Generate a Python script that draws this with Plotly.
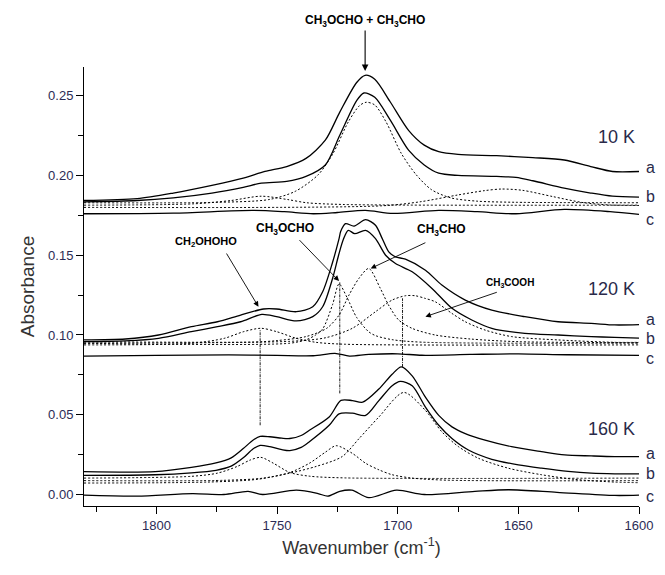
import plotly.graph_objects as go

# ---------------- data ----------------
# 10 K
k10_a_x = [1830, 1808, 1793, 1777, 1764, 1755, 1746, 1738, 1730, 1724, 1717, 1713.5, 1709.5, 1703, 1695.5, 1689, 1683, 1675, 1659, 1644, 1631, 1620, 1611, 1600]
k10_a_y = [0.1843, 0.1855, 0.1890, 0.1938, 0.1983, 0.2025, 0.2056, 0.2107, 0.2221, 0.2397, 0.2583, 0.2628, 0.2603, 0.2459, 0.2283, 0.2190, 0.2149, 0.2132, 0.2124, 0.2112, 0.2097, 0.2056, 0.2025, 0.2025]
k10_b_x = [1830, 1808, 1793, 1777, 1764, 1756.5, 1746, 1738, 1730, 1724, 1717, 1714, 1709.5, 1703, 1695.5, 1689, 1683, 1675, 1659, 1651, 1644, 1631, 1620, 1611, 1600]
k10_b_y = [0.1835, 0.1843, 0.1860, 0.1890, 0.1926, 0.1952, 0.1963, 0.1994, 0.2066, 0.2252, 0.2469, 0.2517, 0.2490, 0.2345, 0.2159, 0.2066, 0.2014, 0.2000, 0.1994, 0.1988, 0.1967, 0.1921, 0.1890, 0.1870, 0.1864]
k10_c_x = [1830, 1793, 1760, 1747, 1735, 1725, 1713.4, 1702, 1683, 1667, 1651, 1631, 1612, 1600]
k10_c_y = [0.1760, 0.1764, 0.1781, 0.1773, 0.1760, 0.1768, 0.1781, 0.1762, 0.1781, 0.1773, 0.1760, 0.1787, 0.1773, 0.1756]
k10_p1_x = [1830, 1777, 1753.4, 1742.4, 1733, 1726.8, 1720.5, 1715.8, 1713, 1709.5, 1704.8, 1698.5, 1692.3, 1686, 1678.1, 1667.1, 1651.4, 1600]
k10_p1_y = [0.1829, 0.1831, 0.1849, 0.1901, 0.2004, 0.2138, 0.2335, 0.2438, 0.2459, 0.2442, 0.2335, 0.2138, 0.2004, 0.1911, 0.1860, 0.1839, 0.1832, 0.1829]
k10_p2_x = [1830, 1784.8, 1769.1, 1756.6, 1745.6, 1737.7, 1722, 1600]
k10_p2_y = [0.1814, 0.1822, 0.1843, 0.1870, 0.1849, 0.1829, 0.1818, 0.1814]
k10_p3_x = [1830, 1706.4, 1690.7, 1675, 1664, 1656.9, 1648.3, 1635.8, 1623.2, 1612.2, 1600]
k10_p3_y = [0.1800, 0.1810, 0.1835, 0.1878, 0.1905, 0.1915, 0.1907, 0.1868, 0.1830, 0.1815, 0.1812]

# 120 K
k120_a_x = [1830, 1812.8, 1799.1, 1785.5, 1774.7, 1765.1, 1755.6, 1750.2, 1742, 1735.2, 1731.1, 1727.1, 1724.3, 1723.6, 1721.6, 1718.1, 1713.3, 1709.2, 1706.4, 1703.7, 1700.9, 1696.8, 1688.5, 1681.7, 1672, 1661, 1647.3, 1633.5, 1619.8, 1610.1, 1600]
k120_a_y = [0.0969, 0.0975, 0.1000, 0.1052, 0.1083, 0.1125, 0.1163, 0.1163, 0.1146, 0.1177, 0.1271, 0.1450, 0.1604, 0.1650, 0.1698, 0.1683, 0.1723, 0.1688, 0.1604, 0.1521, 0.1490, 0.1475, 0.1406, 0.1313, 0.1219, 0.1156, 0.1115, 0.1083, 0.1073, 0.1063, 0.1065]
k120_b_x = [1830, 1812.8, 1799.1, 1785.5, 1774.7, 1765.1, 1756.3, 1750.2, 1742, 1735.2, 1731.1, 1727, 1724.5, 1722.5, 1720.5, 1717.8, 1713.3, 1709.2, 1705, 1700.9, 1694, 1685.8, 1677.5, 1669.3, 1661, 1647.3, 1633.5, 1619.8, 1610.1, 1600]
k120_b_y = [0.0958, 0.0963, 0.0979, 0.1021, 0.1052, 0.1083, 0.1129, 0.1115, 0.1088, 0.1115, 0.1177, 0.1354, 0.1500, 0.1600, 0.1656, 0.1635, 0.1656, 0.1604, 0.1500, 0.1448, 0.1396, 0.1292, 0.1167, 0.1094, 0.1042, 0.1010, 0.1000, 0.0990, 0.0985, 0.0980]
k120_c_x = [1830, 1800, 1770, 1750, 1735, 1726, 1720, 1712, 1700, 1690, 1670, 1650, 1630, 1600]
k120_c_y = [0.0868, 0.0872, 0.0875, 0.0872, 0.0870, 0.0885, 0.0868, 0.0878, 0.0882, 0.0873, 0.0878, 0.0882, 0.0876, 0.0872]
k120_p1_x = [1830, 1785.5, 1771.9, 1763.8, 1756.7, 1750.2, 1742, 1733.8, 1721.6, 1600]
k120_p1_y = [0.0938, 0.0948, 0.0979, 0.1021, 0.1042, 0.1021, 0.0979, 0.0954, 0.0942, 0.0938]
k120_p2_x = [1830, 1745, 1738, 1734, 1731, 1727, 1724.3, 1721, 1717, 1712, 1709, 1702, 1690, 1600]
k120_p2_y = [0.0948, 0.0948, 0.0970, 0.1000, 0.1040, 0.1190, 0.1320, 0.1235, 0.1110, 0.1020, 0.0995, 0.0970, 0.0955, 0.0948]
k120_p3_x = [1830, 1760, 1750, 1738, 1729.4, 1724.3, 1720.2, 1716.1, 1712, 1707.2, 1703.8, 1699.6, 1694.1, 1684.5, 1670, 1650, 1600]
k120_p3_y = [0.0950, 0.0955, 0.0965, 0.0990, 0.1042, 0.1125, 0.1250, 0.1354, 0.1417, 0.1292, 0.1188, 0.1094, 0.1042, 0.1000, 0.0975, 0.0958, 0.0952]
k120_p4_x = [1830, 1745, 1729.8, 1718.8, 1709.2, 1702.3, 1696.8, 1692.7, 1688.5, 1684.4, 1677.5, 1672, 1663.8, 1652.8, 1633.5, 1610.1, 1600]
k120_p4_y = [0.0958, 0.0960, 0.0983, 0.1042, 0.1146, 0.1219, 0.1246, 0.1246, 0.1229, 0.1208, 0.1135, 0.1083, 0.1031, 0.0990, 0.0969, 0.0954, 0.0954]

# 160 K
k160_a_x = [1830, 1800.5, 1785.5, 1775.3, 1769, 1764, 1760, 1757, 1753, 1748, 1744.7, 1740, 1736.6, 1728.4, 1723.5, 1718.8, 1714.5, 1707.8, 1702.3, 1698.5, 1694, 1688.5, 1683, 1677.5, 1672, 1663.8, 1652.8, 1640.4, 1630.8, 1619.8, 1610.1, 1600]
k160_a_y = [0.0143, 0.0143, 0.0170, 0.0198, 0.0230, 0.0288, 0.0340, 0.0364, 0.0362, 0.0353, 0.0351, 0.0370, 0.0403, 0.0486, 0.0590, 0.0589, 0.0579, 0.0661, 0.0754, 0.0800, 0.0744, 0.0610, 0.0496, 0.0424, 0.0382, 0.0341, 0.0300, 0.0269, 0.0248, 0.0242, 0.0238, 0.0238]
k160_b_x = [1830, 1800.5, 1785.5, 1775.3, 1769, 1764, 1760, 1757, 1753, 1748, 1744.7, 1740, 1736.6, 1728.4, 1724.3, 1718.8, 1713.3, 1707.8, 1702.3, 1698.9, 1694, 1688.5, 1683, 1677.5, 1670.7, 1661, 1650, 1640.4, 1629.4, 1619.8, 1610.1, 1600]
k160_b_y = [0.0120, 0.0124, 0.0136, 0.0152, 0.0178, 0.0230, 0.0285, 0.0308, 0.0300, 0.0281, 0.0275, 0.0295, 0.0331, 0.0434, 0.0506, 0.0510, 0.0496, 0.0589, 0.0682, 0.0709, 0.0682, 0.0548, 0.0434, 0.0351, 0.0279, 0.0221, 0.0186, 0.0165, 0.0145, 0.0134, 0.0130, 0.0130]
k160_c_x = [1830, 1808, 1785, 1772, 1762, 1756, 1742, 1733, 1729, 1724, 1719, 1712, 1700.5, 1689, 1668, 1654, 1634, 1610, 1600]
k160_c_y = [-0.0004, -0.0010, 0.0006, 0.0000, 0.0020, 0.0000, 0.0027, 0.0006, -0.0010, 0.0020, 0.0027, -0.0020, 0.0027, 0.0000, 0.0020, 0.0030, 0.0014, -0.0006, -0.0004]
k160_p1_x = [1830, 1785.5, 1774.7, 1766.5, 1761, 1756.7, 1751.5, 1744.7, 1736.6, 1721.6, 1600]
k160_p1_y = [0.0103, 0.0114, 0.0134, 0.0176, 0.0217, 0.0233, 0.0196, 0.0138, 0.0115, 0.0104, 0.0103]
k160_p2_x = [1830, 1772, 1755.6, 1744.7, 1736.6, 1730, 1725.5, 1718.8, 1713.3, 1707.8, 1702.3, 1694, 1680, 1600]
k160_p2_y = [0.0087, 0.0089, 0.0103, 0.0138, 0.0196, 0.0265, 0.0306, 0.0258, 0.0196, 0.0155, 0.0124, 0.0103, 0.0090, 0.0087]
k160_p3_x = [1830, 1778.7, 1758.3, 1744.7, 1733.8, 1723, 1716, 1707.8, 1697.5, 1688.5, 1681.7, 1674.8, 1666.5, 1654.2, 1640.4, 1626.7, 1610, 1600]
k160_p3_y = [0.0072, 0.0078, 0.0095, 0.0134, 0.0176, 0.0238, 0.0351, 0.0486, 0.0640, 0.0527, 0.0393, 0.0300, 0.0227, 0.0165, 0.0124, 0.0095, 0.0078, 0.0074]

# vertical guide lines (band positions) and their extents
guide_x = [1757, 1724, 1698]
guide_y0 = [0.0434, 0.0634, 0.0800]
guide_y1 = [0.1030, 0.1330, 0.1230]

# text
temps = ["10 K", "120 K", "160 K"]
temp_y = [0.2242, 0.1288, 0.0410]
abc = ["a", "b", "c"]
abc_y = [[0.2050, 0.1870, 0.1725], [0.1095, 0.0975, 0.0855], [0.0260, 0.0130, -0.0010]]

# ---------------- figure ----------------
fig = go.Figure()

solid = dict(color="black", width=1.3)
dotted = dict(color="black", width=1.0, dash="2px,2px")

groups = [
    ([(k10_a_x, k10_a_y), (k10_b_x, k10_b_y), (k10_c_x, k10_c_y)],
     [(k10_p1_x, k10_p1_y), (k10_p2_x, k10_p2_y), (k10_p3_x, k10_p3_y)]),
    ([(k120_a_x, k120_a_y), (k120_b_x, k120_b_y), (k120_c_x, k120_c_y)],
     [(k120_p1_x, k120_p1_y), (k120_p2_x, k120_p2_y), (k120_p3_x, k120_p3_y), (k120_p4_x, k120_p4_y)]),
    ([(k160_a_x, k160_a_y), (k160_b_x, k160_b_y), (k160_c_x, k160_c_y)],
     [(k160_p1_x, k160_p1_y), (k160_p2_x, k160_p2_y), (k160_p3_x, k160_p3_y)]),
]

for sol, comps in groups:
    for xs, ys in comps:
        fig.add_trace(go.Scatter(x=xs, y=ys, mode="lines", line=dotted,
                                 line_shape="spline", line_smoothing=0.8,
                                 hoverinfo="skip", showlegend=False))
    for xs, ys in sol:
        fig.add_trace(go.Scatter(x=xs, y=ys, mode="lines", line=solid,
                                 line_shape="spline", line_smoothing=0.8,
                                 hoverinfo="skip", showlegend=False))

for gx, g0, g1 in zip(guide_x, guide_y0, guide_y1):
    fig.add_trace(go.Scatter(x=[gx, gx], y=[g0, g1], mode="lines",
                             line=dict(color="black", width=0.9, dash="3px,1px,1px,1px"),
                             hoverinfo="skip", showlegend=False))

navy = "#2a2a4a"
ann = []
# temperature labels
for t, ty in zip(temps, temp_y):
    ann.append(dict(x=1601, y=ty, xref="x", yref="y", text=t, showarrow=False,
                    xanchor="right", yanchor="middle",
                    font=dict(size=18, color=navy)))
# a b c labels
for ys in abc_y:
    for lab, ly in zip(abc, ys):
        ann.append(dict(x=1.02, y=ly, xref="paper", yref="y", text=lab, showarrow=False,
                        xanchor="center", yanchor="middle", borderpad=0,
                        font=dict(size=16, color=navy)))

chem_family = "Arial, Liberation Sans, sans-serif"
# top label with arrow (label sits above the plot area)
ann.append(dict(x=1713.5, y=1.104, xref="x", yref="paper",
                text="<b>CH<sub>3</sub>OCHO + CH<sub>3</sub>CHO</b>", showarrow=False,
                xanchor="center", yanchor="middle",
                font=dict(size=12, color="black", family=chem_family)))
ann.append(dict(x=1713.5, y=0.2655, xref="x", yref="y", ax=0, ay=-42,
                text="", showarrow=True,
                arrowhead=2, arrowsize=1.2, arrowwidth=1.1, arrowcolor="black"))

labels = [
    ("<b>CH<sub>2</sub>OHOHO</b>", 1779.4, 0.1583, (1771.3, 0.1520), (1757.7, 0.1177), 11),
    ("<b>CH<sub>3</sub>OCHO</b>", 1746.8, 0.1667, (1741.3, 0.1604), (1724.3, 0.1338), 12),
    ("<b>CH<sub>3</sub>CHO</b>", 1681.7, 0.1656, (1687.9, 0.1583), (1711.2, 0.1417), 12),
    ("<b>CH<sub>3</sub>COOH</b>", 1653.5, 0.1329, (1658.3, 0.1271), (1688.5, 0.1115), 10),
]
for txt, tx, ty, tail, head, fs in labels:
    ann.append(dict(x=tx, y=ty, xref="x", yref="y", text=txt, showarrow=False,
                    font=dict(size=fs, color="black", family=chem_family)))
    ann.append(dict(x=head[0], y=head[1], xref="x", yref="y", ax=tail[0], ay=tail[1],
                    axref="x", ayref="y", text="", showarrow=True,
                    arrowhead=2, arrowsize=1.2, arrowwidth=0.9, arrowcolor="black"))

tick_font = dict(size=13, color="#2b2b55", family=chem_family)

fig.update_layout(
    width=665, height=575,
    margin=dict(l=84, r=20, t=67, b=69),
    paper_bgcolor="white", plot_bgcolor="white",
    showlegend=False,
    annotations=ann,
    font=dict(family=chem_family),
    xaxis=dict(range=[1830, 1600], showline=True, linecolor="black", linewidth=1,
               ticks="outside", ticklen=7, tickwidth=1, tickcolor="black",
               tick0=1600, dtick=50, showgrid=False, zeroline=False,
               minor=dict(dtick=25, ticklen=5, ticks="outside", tickcolor="black", showgrid=False),
               tickfont=tick_font,
               title=dict(text="Wavenumber (cm<sup>-1</sup>)", standoff=9,
                          font=dict(size=18, color="#333333"))),
    yaxis=dict(range=[-0.0072, 0.268], showline=True, linecolor="black", linewidth=1,
               ticks="outside", ticklen=7, tickwidth=1, tickcolor="black",
               tick0=0, dtick=0.05, tickformat=".2f", showgrid=False, zeroline=False,
               minor=dict(dtick=0.025, ticklen=5, ticks="outside", tickcolor="black", showgrid=False),
               tickfont=tick_font,
               title=dict(text="Absorbance", standoff=8,
                          font=dict(size=19, color="#333333"))),
)

fig.write_html("out.html")
